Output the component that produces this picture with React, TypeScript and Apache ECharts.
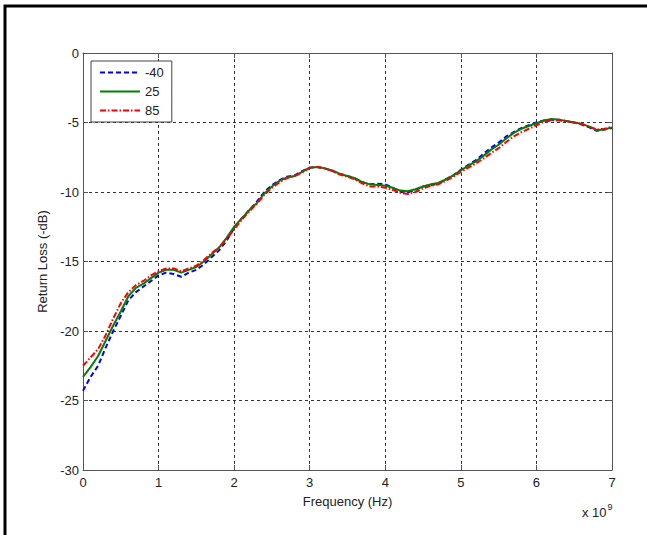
import React, { useEffect, useRef } from "react";
import * as echarts from "echarts";

const freqGHz = [
  0.0, 0.1, 0.2, 0.3, 0.4, 0.5, 0.6, 0.7, 0.8, 0.9,
  1.0, 1.1, 1.2, 1.3, 1.4, 1.5, 1.6, 1.7, 1.8, 1.9,
  2.0, 2.1, 2.2, 2.3, 2.4, 2.5, 2.6, 2.7, 2.8, 2.9,
  3.0, 3.1, 3.2, 3.3, 3.4, 3.5, 3.6, 3.7, 3.8, 3.9,
  4.0, 4.1, 4.2, 4.3, 4.4, 4.5, 4.6, 4.7, 4.8, 4.9,
  5.0, 5.1, 5.2, 5.3, 5.4, 5.5, 5.6, 5.7, 5.8, 5.9,
  6.0, 6.1, 6.2, 6.3, 6.4, 6.5, 6.6, 6.7, 6.8, 6.9, 7.0,
];

const rlMinus40 = [
  -24.3, -23.3, -22.5, -21.2, -20.0, -18.9, -17.8, -17.2, -16.8, -16.4,
  -16.0, -15.8, -15.9, -16.1, -15.8, -15.6, -15.2, -14.7, -14.2, -13.5,
  -12.6, -11.9, -11.3, -10.7, -10.0, -9.5, -9.15, -8.9, -8.8, -8.5,
  -8.25, -8.2, -8.3, -8.5, -8.7, -8.85, -9.05, -9.3, -9.45, -9.4,
  -9.45, -9.7, -9.95, -10.0, -9.85, -9.6, -9.5, -9.4, -9.1, -8.8,
  -8.4, -8.05, -7.7, -7.25, -6.8, -6.45, -6.0, -5.7, -5.4, -5.2,
  -5.0, -4.85, -4.8, -4.8, -4.9, -5.0, -5.15, -5.35, -5.6, -5.5, -5.4,
];

const rl25 = [
  -23.3, -22.6, -21.8, -20.7, -19.6, -18.6, -17.5, -16.9, -16.6, -16.2,
  -15.8, -15.6, -15.6, -15.8, -15.6, -15.4, -15.0, -14.5, -14.0, -13.3,
  -12.5, -11.9, -11.3, -10.8, -10.1, -9.6, -9.2, -8.95, -8.85, -8.55,
  -8.25, -8.2, -8.3, -8.45, -8.7, -8.85, -9.0, -9.3, -9.45, -9.5,
  -9.55, -9.7, -9.9, -9.95, -9.8, -9.6, -9.45, -9.35, -9.1, -8.8,
  -8.45, -8.1, -7.8, -7.4, -6.95, -6.6, -6.15, -5.75, -5.45, -5.25,
  -5.05, -4.85, -4.75, -4.8, -4.9, -5.0, -5.1, -5.3, -5.55, -5.5, -5.35,
];

const rl85 = [
  -22.5, -21.9, -21.3, -20.3, -19.1, -18.0, -17.2, -16.7, -16.4, -16.0,
  -15.7, -15.5, -15.5, -15.7, -15.5, -15.3, -14.9, -14.4, -14.0, -13.4,
  -12.7, -12.0, -11.4, -10.85, -10.2, -9.7, -9.3, -9.0, -8.85, -8.6,
  -8.25, -8.2, -8.3, -8.5, -8.75, -8.9, -9.1, -9.4, -9.6, -9.6,
  -9.7, -9.85, -10.05, -10.15, -10.0, -9.75, -9.55, -9.45, -9.2, -8.9,
  -8.55, -8.25, -7.95, -7.6, -7.2, -6.85, -6.4, -6.0, -5.7, -5.45,
  -5.2, -4.95, -4.85, -4.85, -4.9, -5.0, -5.1, -5.3, -5.5, -5.45, -5.3,
];

const seriesNames = ["-40", "25", "85"];
const xTicks = [0, 1, 2, 3, 4, 5, 6, 7];
const yTicks = [-30, -25, -20, -15, -10, -5, 0];

const FONT = "Liberation Sans, Arial, sans-serif";
const TXT = "#222";

export default function App() {
  const ref = useRef<HTMLDivElement>(null);
  useEffect(() => {
    if (!ref.current) return;
    const chart = echarts.init(ref.current, undefined, { renderer: "svg" });
    const pair = (ys: number[]) => freqGHz.map((f, i) => [f, ys[i]]);
    const gridLine = { show: true, lineStyle: { color: "#333", type: [3, 3] as any, width: 1 } };
    const axisLine = { show: true, onZero: false, lineStyle: { color: "#555", width: 1 } };
    const tick = { show: true, inside: true, length: 5, lineStyle: { color: "#555" } };
    chart.setOption({
      animation: false,
      backgroundColor: "#fff",
      textStyle: { fontFamily: FONT },
      grid: { left: 83, top: 53, right: 35, bottom: 65 },
      xAxis: [
        {
          type: "value",
          min: xTicks[0],
          max: xTicks[xTicks.length - 1],
          interval: 1,
          name: "Frequency (Hz)",
          nameLocation: "middle",
          nameGap: 25,
          nameTextStyle: { color: TXT, fontSize: 13, fontFamily: FONT },
          axisLine,
          axisTick: tick,
          axisLabel: { color: TXT, fontSize: 13, margin: 6, fontFamily: FONT },
          splitLine: gridLine,
        },
        {
          type: "value",
          position: "top",
          min: xTicks[0],
          max: xTicks[xTicks.length - 1],
          interval: 1,
          axisLine,
          axisTick: tick,
          axisLabel: { show: false },
          splitLine: { show: false },
        },
      ],
      yAxis: [
        {
          type: "value",
          min: yTicks[0],
          max: yTicks[yTicks.length - 1],
          interval: 5,
          name: "Return Loss (-dB)",
          nameLocation: "middle",
          nameGap: 34,
          nameTextStyle: { color: TXT, fontSize: 13, fontFamily: FONT },
          axisLine,
          axisTick: tick,
          axisLabel: { color: TXT, fontSize: 13, margin: 4, fontFamily: FONT },
          splitLine: gridLine,
        },
        {
          type: "value",
          position: "right",
          min: yTicks[0],
          max: yTicks[yTicks.length - 1],
          interval: 5,
          axisLine,
          axisTick: tick,
          axisLabel: { show: false },
          splitLine: { show: false },
        },
      ],
      legend: {
        left: 91,
        top: 61,
        orient: "vertical",
        itemWidth: 40,
        itemHeight: 14,
        itemGap: 6,
        padding: [5, 8, 5, 8],
        borderColor: "#444",
        borderWidth: 1,
        backgroundColor: "#fff",
        itemStyle: { opacity: 0 },
        textStyle: { color: TXT, fontSize: 13, fontFamily: FONT },
        data: seriesNames,
      },
      series: [
        {
          name: seriesNames[0],
          type: "line",
          data: pair(rlMinus40),
          symbol: "none",
          lineStyle: { color: "#0000ff", width: 2, type: [5, 3] },
          itemStyle: { color: "#0000ff" },
          z: 3,
        },
        {
          name: seriesNames[1],
          type: "line",
          data: pair(rl25),
          symbol: "none",
          lineStyle: { color: "#008000", width: 2, type: "solid" },
          itemStyle: { color: "#008000" },
          z: 4,
        },
        {
          name: seriesNames[2],
          type: "line",
          data: pair(rl85),
          symbol: "none",
          lineStyle: { color: "#ff0000", width: 2, type: [6, 2, 1.5, 2] },
          itemStyle: { color: "#ff0000" },
          z: 5,
        },
      ],
      graphic: [
        {
          type: "rect",
          shape: { x: 5, y: 6, width: 700, height: 600 },
          style: { fill: "none", stroke: "#000", lineWidth: 3 },
          silent: true,
        },
        {
          type: "text",
          left: 582,
          top: 502,
          style: {
            text: "{b|x 10}{s|9}",
            rich: {
              b: { fontSize: 13, fontFamily: FONT, fill: TXT, verticalAlign: "bottom" },
              s: { fontSize: 9, fontFamily: FONT, fill: TXT, verticalAlign: "top", padding: [0, 0, 8, 1] },
            },
          } as any,
        },
      ],
    });
    return () => chart.dispose();
  }, []);
  return (
    <div
      ref={ref}
      style={{ position: "absolute", left: 0, top: 0, width: 647, height: 535, background: "#fff" }}
    />
  );
}
